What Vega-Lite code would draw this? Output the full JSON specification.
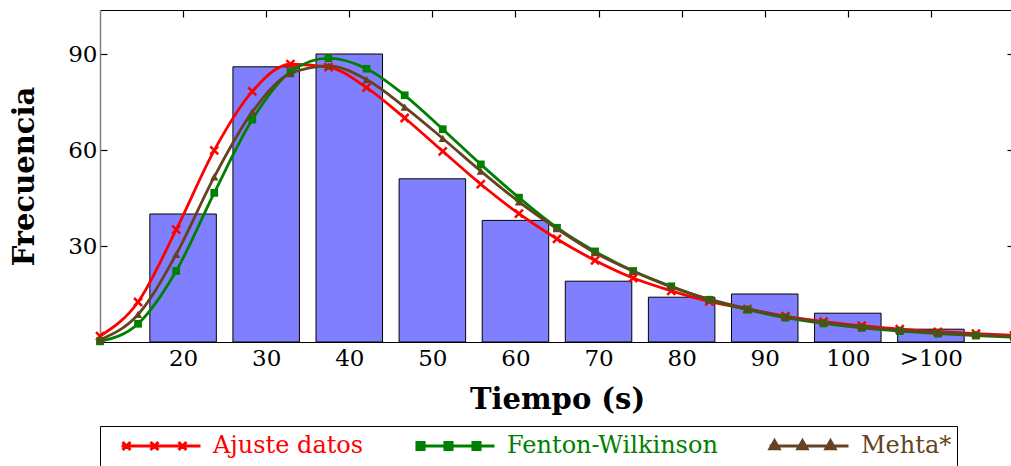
{
  "$schema": "https://vega.github.io/schema/vega-lite/v6.json",
  "width": 914,
  "height": 332,
  "autosize": {"type": "none"},
  "padding": {"left": 100, "top": 10, "right": 0, "bottom": 124},
  "background": "white",
  "config": {
    "font": "DejaVu Serif",
    "view": {"stroke": null},
    "axis": {"grid": false, "labelFont": "DejaVu Serif", "labelFontSize": 23, "labelColor": "black", "titleFont": "DejaVu Serif", "titleFontWeight": "bold", "titleFontSize": 29, "titleColor": "black", "tickColor": "black", "domainColor": "black", "tickSize": -7, "tickWidth": 1.2, "domainWidth": 1.2},
    "legend": {"labelFont": "DejaVu Serif", "labelFontSize": 24}
  },
  "datasets": {
    "bars": [
      {"t": 20, "freq": 40}, {"t": 30, "freq": 86}, {"t": 40, "freq": 90}, {"t": 50, "freq": 51},
      {"t": 60, "freq": 38}, {"t": 70, "freq": 19}, {"t": 80, "freq": 14}, {"t": 90, "freq": 15},
      {"t": 100, "freq": 9}, {"t": 110, "freq": 4}
    ],
    "curves": [
      {"s": "Ajuste datos", "t": 10, "v": 1.8}, {"s": "Ajuste datos", "t": 14.58, "v": 12.5}, {"s": "Ajuste datos", "t": 19.17, "v": 35.1}, {"s": "Ajuste datos", "t": 23.75, "v": 59.9}, {"s": "Ajuste datos", "t": 28.33, "v": 78.3}, {"s": "Ajuste datos", "t": 32.92, "v": 86.8}, {"s": "Ajuste datos", "t": 37.5, "v": 85.9}, {"s": "Ajuste datos", "t": 42.08, "v": 79.5}, {"s": "Ajuste datos", "t": 46.67, "v": 70.0}, {"s": "Ajuste datos", "t": 51.25, "v": 59.6}, {"s": "Ajuste datos", "t": 55.83, "v": 49.3}, {"s": "Ajuste datos", "t": 60.42, "v": 40.1}, {"s": "Ajuste datos", "t": 65, "v": 32.2}, {"s": "Ajuste datos", "t": 69.58, "v": 25.5}, {"s": "Ajuste datos", "t": 74.17, "v": 20.0}, {"s": "Ajuste datos", "t": 78.75, "v": 16.0}, {"s": "Ajuste datos", "t": 83.33, "v": 12.7}, {"s": "Ajuste datos", "t": 87.92, "v": 10.3}, {"s": "Ajuste datos", "t": 92.5, "v": 8.1}, {"s": "Ajuste datos", "t": 97.08, "v": 6.4}, {"s": "Ajuste datos", "t": 101.67, "v": 5.1}, {"s": "Ajuste datos", "t": 106.25, "v": 4.0}, {"s": "Ajuste datos", "t": 110.83, "v": 3.2}, {"s": "Ajuste datos", "t": 115.42, "v": 2.6}, {"s": "Ajuste datos", "t": 120, "v": 2.1},
      {"s": "Fenton-Wilkinson", "t": 10, "v": 0.2}, {"s": "Fenton-Wilkinson", "t": 14.58, "v": 5.7}, {"s": "Fenton-Wilkinson", "t": 19.17, "v": 22.2}, {"s": "Fenton-Wilkinson", "t": 23.75, "v": 46.6}, {"s": "Fenton-Wilkinson", "t": 28.33, "v": 69.5}, {"s": "Fenton-Wilkinson", "t": 32.92, "v": 84.4}, {"s": "Fenton-Wilkinson", "t": 37.5, "v": 88.7}, {"s": "Fenton-Wilkinson", "t": 42.08, "v": 85.4}, {"s": "Fenton-Wilkinson", "t": 46.67, "v": 77.1}, {"s": "Fenton-Wilkinson", "t": 51.25, "v": 66.5}, {"s": "Fenton-Wilkinson", "t": 55.83, "v": 55.5}, {"s": "Fenton-Wilkinson", "t": 60.42, "v": 45.1}, {"s": "Fenton-Wilkinson", "t": 65, "v": 35.7}, {"s": "Fenton-Wilkinson", "t": 69.58, "v": 28.3}, {"s": "Fenton-Wilkinson", "t": 74.17, "v": 22.2}, {"s": "Fenton-Wilkinson", "t": 78.75, "v": 17.4}, {"s": "Fenton-Wilkinson", "t": 83.33, "v": 13.2}, {"s": "Fenton-Wilkinson", "t": 87.92, "v": 10.1}, {"s": "Fenton-Wilkinson", "t": 92.5, "v": 7.6}, {"s": "Fenton-Wilkinson", "t": 97.08, "v": 5.8}, {"s": "Fenton-Wilkinson", "t": 101.67, "v": 4.4}, {"s": "Fenton-Wilkinson", "t": 106.25, "v": 3.4}, {"s": "Fenton-Wilkinson", "t": 110.83, "v": 2.6}, {"s": "Fenton-Wilkinson", "t": 115.42, "v": 2.0}, {"s": "Fenton-Wilkinson", "t": 120, "v": 1.5},
      {"s": "Mehta*", "t": 10, "v": 0.7}, {"s": "Mehta*", "t": 14.58, "v": 8.6}, {"s": "Mehta*", "t": 19.17, "v": 27.4}, {"s": "Mehta*", "t": 23.75, "v": 51.6}, {"s": "Mehta*", "t": 28.33, "v": 71.9}, {"s": "Mehta*", "t": 32.92, "v": 83.9}, {"s": "Mehta*", "t": 37.5, "v": 86.3}, {"s": "Mehta*", "t": 42.08, "v": 82.0}, {"s": "Mehta*", "t": 46.67, "v": 73.4}, {"s": "Mehta*", "t": 51.25, "v": 63.6}, {"s": "Mehta*", "t": 55.83, "v": 53.4}, {"s": "Mehta*", "t": 60.42, "v": 43.8}, {"s": "Mehta*", "t": 65, "v": 35.4}, {"s": "Mehta*", "t": 69.58, "v": 27.9}, {"s": "Mehta*", "t": 74.17, "v": 22.1}, {"s": "Mehta*", "t": 78.75, "v": 17.2}, {"s": "Mehta*", "t": 83.33, "v": 13.4}, {"s": "Mehta*", "t": 87.92, "v": 10.4}, {"s": "Mehta*", "t": 92.5, "v": 7.9}, {"s": "Mehta*", "t": 97.08, "v": 6.1}, {"s": "Mehta*", "t": 101.67, "v": 4.7}, {"s": "Mehta*", "t": 106.25, "v": 3.7}, {"s": "Mehta*", "t": 110.83, "v": 2.9}, {"s": "Mehta*", "t": 115.42, "v": 2.3}, {"s": "Mehta*", "t": 120, "v": 1.7}
    ]
  },
  "resolve": {"axis": {"x": "independent", "y": "independent"}},
  "layer": [
    {
      "data": {"name": "bars"},
      "mark": {"type": "bar", "width": 66.5, "fill": "#8080ff", "stroke": "black", "strokeWidth": 1},
      "encoding": {
        "x": {"field": "t", "type": "quantitative", "scale": {"domain": [10, 120], "nice": false, "zero": false, "padding": 0},
          "axis": {"orient": "bottom", "values": [20, 30, 40, 50, 60, 70, 80, 90, 100, 110], "labelExpr": "datum.value == 110 ? '>100' : datum.label", "labelPadding": 12, "title": "Tiempo (s)", "titlePadding": 15}},
        "y": {"field": "freq", "type": "quantitative", "scale": {"domain": [0, 103.75], "nice": false, "padding": 0},
          "axis": {"orient": "left", "values": [30, 60, 90], "labelPadding": 10, "title": "Frecuencia", "titlePadding": 28, "domainColor": "#808080", "domainWidth": 1.5}}
      }
    },
    {
      "data": {"name": "curves"},
      "mark": {"type": "line", "interpolate": "monotone", "strokeWidth": 2.8},
      "encoding": {
        "x": {"field": "t", "type": "quantitative", "axis": null},
        "y": {"field": "v", "type": "quantitative", "axis": null},
        "color": {"field": "s", "type": "nominal",
          "scale": {"domain": ["Ajuste datos", "Fenton-Wilkinson", "Mehta*"], "range": ["#ff0000", "#008000", "#654321"]},
          "legend": {
            "orient": "none", "legendX": 0, "legendY": 416, "direction": "horizontal", "title": null,
            "strokeColor": "black", "fillColor": "white", "padding": 5,
            "labelFont": "DejaVu Serif", "labelFontSize": 24, "labelLimit": 600,
            "symbolSize": 6241, "symbolStrokeWidth": 3, "symbolOffset": 15, "labelOffset": 11,
            "columnPadding": 35, "clipHeight": 30,
            "encode": {
              "labels": {"update": {"fill": {"scale": "color", "field": "value"}}},
              "symbols": {"update": {
                "shape": {"signal": "datum.value === 'Ajuste datos' ? 'M-1,0L1,0M-0.973,-0.1L-0.773,0.1M-0.973,0.1L-0.773,-0.1M-0.265,-0.1L-0.065,0.1M-0.265,0.1L-0.065,-0.1M0.444,-0.1L0.644,0.1M0.444,0.1L0.644,-0.1' : datum.value === 'Fenton-Wilkinson' ? 'M-1,0L1,0M-0.963,-0.09h0.18v0.18h-0.18ZM-0.255,-0.09h0.18v0.18h-0.18ZM0.454,-0.09h0.18v0.18h-0.18Z' : 'M-1,0L1,0M-0.988,0.07L-0.758,0.07L-0.873,-0.13ZM-0.28,0.07L-0.05,0.07L-0.165,-0.13ZM0.429,0.07L0.659,0.07L0.544,-0.13Z'"},
                "fill": {"scale": "color", "field": "value"},
                "stroke": {"scale": "color", "field": "value"},
                "strokeWidth": {"value": 3},
                "opacity": {"value": 1}
              }}
            }
          }}
      }
    },
    {
      "data": {"name": "curves"},
      "transform": [{"filter": "datum.s === 'Ajuste datos'"}],
      "mark": {"type": "point", "shape": "M-1,-1L1,1M-1,1L1,-1", "size": 64, "strokeWidth": 2.5, "opacity": 1, "filled": false, "color": "#ff0000"},
      "encoding": {
        "x": {"field": "t", "type": "quantitative", "axis": null},
        "y": {"field": "v", "type": "quantitative", "axis": null}
      }
    },
    {
      "data": {"name": "curves"},
      "transform": [{"filter": "datum.s === 'Fenton-Wilkinson'"}],
      "mark": {"type": "point", "shape": "square", "size": 60, "strokeWidth": 1.5, "opacity": 1, "filled": true, "color": "#008000"},
      "encoding": {
        "x": {"field": "t", "type": "quantitative", "axis": null},
        "y": {"field": "v", "type": "quantitative", "axis": null}
      }
    },
    {
      "data": {"name": "curves"},
      "transform": [{"filter": "datum.s === 'Mehta*'"}],
      "mark": {"type": "point", "shape": "triangle-up", "size": 70, "strokeWidth": 1.5, "opacity": 1, "filled": true, "color": "#654321"},
      "encoding": {
        "x": {"field": "t", "type": "quantitative",
          "axis": {"orient": "top", "values": [20, 30, 40, 50, 60, 70, 80, 90, 100, 110], "labels": false, "title": null, "ticks": true, "domain": true}},
        "y": {"field": "v", "type": "quantitative",
          "axis": {"orient": "right", "values": [30, 60, 90], "labels": false, "title": null}}
      }
    }
  ]
}
